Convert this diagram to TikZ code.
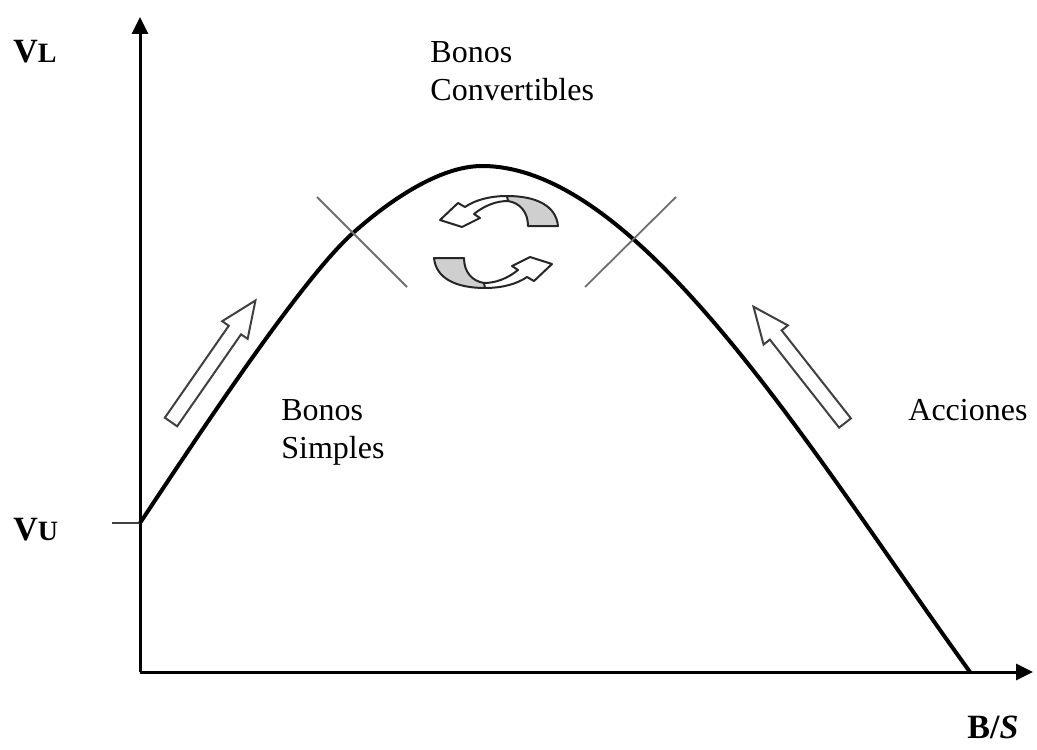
\documentclass[tikz,border=0pt]{standalone}
\usepackage{fontspec}
\setmainfont{Liberation Serif}
\usepackage{xcolor}
\definecolor{cAxis}{HTML}{000000}
\definecolor{cGray}{HTML}{6E6E6E}
\definecolor{cEdge}{HTML}{404040}
\definecolor{cBand}{HTML}{CFCFCF}
\usetikzlibrary{arrows.meta}
\tikzset{
  axis-line/.style={line width=1.5pt,draw=cAxis,-{Triangle[length=8.5pt,width=8pt]}},
  curve-line/.style={line width=2pt,draw=black,line join=round},
  cross-line/.style={line width=0.9pt,draw=cGray},
  tick-line/.style={line width=1.2pt,draw=cEdge},
  hollow-arrow/.style={line width=1pt,draw=cEdge,fill=white,line join=miter},
  circ-edge/.style={line width=1pt,draw=black!85,line join=round},
  label-text/.style={inner sep=0pt,align=left,font=\fontsize{16}{19}\selectfont},
  label-axis/.style={inner sep=0pt,font=\fontsize{17}{20}\selectfont\bfseries},
  % flecha hueca recta (cola en el origen, punta en +x)
  fat-arrow/.pic={
    \draw[hollow-arrow] (0,-7.5) -- (112,-7.5) -- (112,-15.5) -- (148,0)
      -- (112,15.5) -- (112,7.5) -- (0,7.5) -- cycle;
  },
  % flecha circular: banda gris + flecha hueca
  circ-arrow/.pic={
    \path[fill=white] (62,-16) .. controls (60,-37) and (39,-46) .. (11,-46)
      .. controls (-6,-46) and (-21,-42) .. (-31,-35) -- (-38,-39) -- (-56,-22)
      -- (-34,-15) -- (-16,-24) -- (-22,-28)
      .. controls (-11,-37) and (1,-41) .. (12,-41)
      .. controls (24,-39) and (32,-30) .. (32,-16) -- cycle;
    \fill[cBand] (62,-16) .. controls (60,-37) and (39,-46) .. (11,-46)
      -- (12,-41) .. controls (24,-39) and (32,-30) .. (32,-16) -- cycle;
    \draw[circ-edge] (62,-16) .. controls (60,-37) and (39,-46) .. (11,-46)
      .. controls (-6,-46) and (-21,-42) .. (-31,-35) -- (-38,-39) -- (-56,-22)
      -- (-34,-15) -- (-16,-24) -- (-22,-28)
      .. controls (-11,-37) and (1,-41) .. (12,-41)
      .. controls (24,-39) and (32,-30) .. (32,-16) -- cycle;
    \draw[circ-edge] (11,-46) -- (12,-41);
  },
}

\begin{document}
\begin{tikzpicture}[x=0.5pt,y=-0.5pt]
  \useasboundingbox (0,0) rectangle (1037,749);

  \coordinate (origin) at (140,672);
  \coordinate (y-top) at (140,17);
  \coordinate (x-end) at (1033,672);
  \coordinate (vu-level) at (140,523);
  \coordinate (vu-tick) at (112,523);
  \coordinate (peak) at (482,166);
  \coordinate (cross-left) at (353,233);
  \coordinate (zero) at (970,672);

  % ejes
  \draw[axis-line] (origin) -- (y-top);
  \draw[axis-line] (origin) -- (x-end);
  \draw[tick-line] (vu-tick) -- (vu-level);

  % curva del valor
  \draw[curve-line] (vu-level) .. controls (190,448) and (300,280) .. (cross-left)
    .. controls (390,200) and (440,166) .. (peak)
    .. controls (642,166) and (817,461) .. (zero);

  % cruces
  \draw[cross-line] (317,197) -- (407,287);
  \draw[cross-line] (676,197) -- (585,287);

  % flechas
  \pic[rotate=55.2] at (171,422) {fat-arrow};
  \pic[rotate=128.2] at (845,423) {fat-arrow};
  \pic at (496,242) {circ-arrow};
  \pic[rotate=180] at (496,242) {circ-arrow};

  % textos
  \node[label-axis,anchor=north west] (vl) at (13,40) {V{\fontsize{14}{16}\selectfont L}};
  \node[label-axis,anchor=north west] (vu) at (13,518) {V{\fontsize{14}{16}\selectfont U}};
  \node[label-axis,anchor=north west] (bs) at (967,716) {B/\textit{S}};
  \node[label-text,anchor=north west] (convertibles) at (430,41) {Bonos\\Convertibles};
  \node[label-text,anchor=north west] (simples) at (281,399) {Bonos\\Simples};
  \node[label-text,anchor=north west] (acciones) at (908,399) {Acciones};
\end{tikzpicture}
\end{document}
